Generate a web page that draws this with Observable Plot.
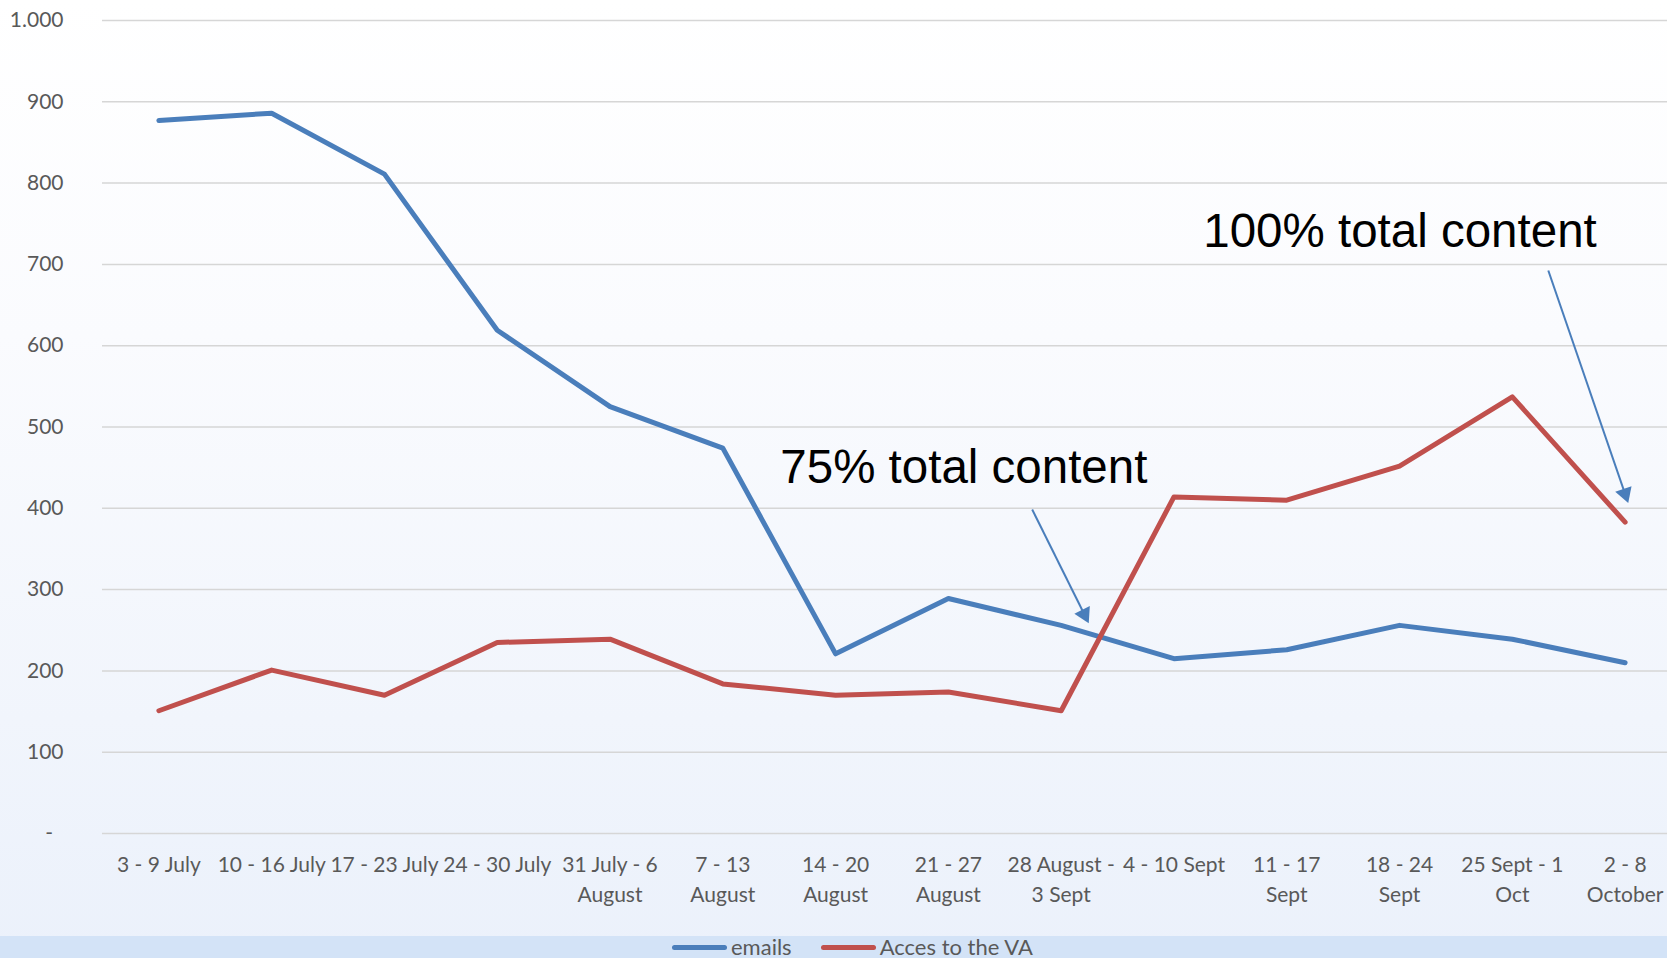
<!DOCTYPE html>
<html>
<head>
<meta charset="utf-8">
<script src="https://cdn.jsdelivr.net/npm/d3@7"></script>
<script src="https://cdn.jsdelivr.net/npm/@observablehq/plot@0.6"></script>
<style>
  html, body { margin: 0; padding: 0; overflow: hidden; }
  body {
    width: 1667px; height: 958px;
    background: linear-gradient(to bottom, #ffffff 0%, #fafbfe 35%, #f1f5fc 75%, #ebf1fb 100%);
    font-family: Lato, "Open Sans", sans-serif;
  }
  #chart svg { display: block; }
  #legend {
    height: 22px; background: #d3e3f7; box-sizing: border-box;
    padding-left: 672px; display: flex; align-items: center;
    font-size: 22px; color: #595959; line-height: 22px; white-space: nowrap;
  }
  .sw { display: inline-block; width: 55px; height: 5px; border-radius: 3px; margin-right: 4px; }
</style>
</head>
<body>
<div id="chart"></div>
<div id="legend">
  <span class="sw" style="background:#4a7ebb"></span><span>emails</span>
  <span class="sw" style="background:#c0504d;margin-left:29px"></span><span>Acces to the VA</span>
</div>
<script>
const categories = [
  "3 - 9 July", "10 - 16 July", "17 - 23 July", "24 - 30 July",
  "31 July - 6\nAugust", "7 - 13\nAugust", "14 - 20\nAugust", "21 - 27\nAugust",
  "28 August -\n3 Sept", "4 - 10 Sept", "11 - 17\nSept", "18 - 24\nSept",
  "25 Sept - 1\nOct", "2 - 8\nOctober"
];
const emails = [877, 886, 811, 619, 525, 474, 221, 289, 256, 215, 226, 256, 239, 210];
const accesVA = [151, 201, 170, 235, 239, 184, 170, 174, 151, 414, 410, 452, 537, 383];
const yTicks = [0, 100, 200, 300, 400, 500, 600, 700, 800, 900, 1000];

// annotations (data space: x = category index, y = value)
const noteText = ["75% total content", "100% total content"];
const noteX = [5.51, 9.26];
const noteY = [431, 721];
const arrowX1 = [7.743, 12.319];
const arrowY1 = [398.5, 692.5];
const arrowX2 = [8.205, 12.999];
const arrowY2 = [269.7, 418.0];
const arrowRot = [153.5, 161.0];

const table = categories.map((c, i) => ({i, emails: emails[i], acces: accesVA[i]}));
const notes = noteText.map((t, i) => ({t, x: noteX[i], y: noteY[i]}));
const arrows = arrowX1.map((x1, i) => ({x1, y1: arrowY1[i], x2: arrowX2[i], y2: arrowY2[i], r: arrowRot[i]}));

const yFmt = d => d === 0 ? "-\u2002" : d3.format(",")(d).replace(",", ".");

const chart = Plot.plot({
  width: 1667,
  height: 936,
  marginLeft: 102,
  marginRight: 0,
  marginTop: 20,
  marginBottom: 103,
  style: {background: "transparent", fontFamily: "Lato, 'Open Sans', sans-serif", overflow: "visible"},
  x: {domain: [-0.5, 13.5], range: [102, 1681]},
  y: {domain: [0, 1000]},
  marks: [
    Plot.ruleY(yTicks, {stroke: "#d6d6d6", strokeWidth: 1.5}),
    Plot.axisY({ticks: yTicks, tickSize: 0, tickPadding: 39, tickFormat: yFmt, fontSize: 21, fill: "#595959", label: null}),
    Plot.axisX({ticks: d3.range(categories.length), tickSize: 0, tickPadding: 18, tickFormat: i => categories[i], fontSize: 21, lineHeight: 1.4, fill: "#595959", label: null}),
    Plot.line(table, {x: "i", y: "emails", stroke: "#4a7ebb", strokeWidth: 5}),
    Plot.line(table, {x: "i", y: "acces", stroke: "#c0504d", strokeWidth: 5}),
    Plot.text(notes, {x: "x", y: "y", text: "t", textAnchor: "start", lineAnchor: "bottom", fontSize: 47.5, fontFamily: "'Liberation Sans', Arial, sans-serif", fill: "#000"}),
    Plot.link(arrows, {x1: "x1", y1: "y1", x2: "x2", y2: "y2", stroke: "#4a7ebb", strokeWidth: 2}),
    Plot.dot(arrows, {x: "x2", y: "y2", symbol: "triangle", r: 6.4, rotate: "r", fill: "#4a7ebb", stroke: "none"})
  ]
});
document.getElementById("chart").appendChild(chart);
</script>
</body>
</html>
